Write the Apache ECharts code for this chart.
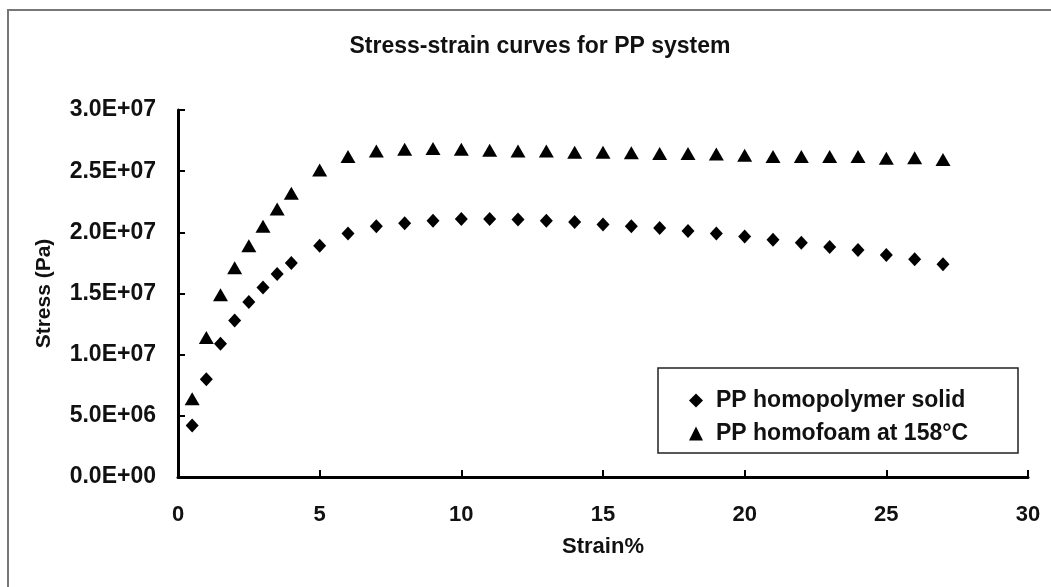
<!DOCTYPE html>
<html>
<head>
<meta charset="utf-8">
<script src="https://cdn.jsdelivr.net/npm/echarts@6/dist/echarts.min.js"></script>
<style>
html,body{margin:0;padding:0;background:#fff;}
#chart{width:1051px;height:587px;}
</style>
</head>
<body>
<div id="chart"></div>
<script>
const strain = [0.5, 1, 1.5, 2, 2.5, 3, 3.5, 4, 5, 6, 7, 8, 9, 10, 11, 12, 13, 14, 15, 16, 17, 18, 19, 20, 21, 22, 23, 24, 25, 26, 27];
const solidStress = [4.2e6, 8.0e6, 10.9e6, 12.8e6, 14.3e6, 15.5e6, 16.6e6, 17.5e6, 18.9e6, 19.9e6, 20.5e6, 20.75e6, 20.95e6, 21.1e6, 21.1e6, 21.05e6, 20.95e6, 20.85e6, 20.65e6, 20.5e6, 20.35e6, 20.1e6, 19.9e6, 19.65e6, 19.4e6, 19.15e6, 18.8e6, 18.55e6, 18.15e6, 17.8e6, 17.4e6];
const foamStress = [6.4e6, 11.4e6, 14.9e6, 17.1e6, 18.9e6, 20.5e6, 21.9e6, 23.2e6, 25.1e6, 26.2e6, 26.65e6, 26.8e6, 26.85e6, 26.8e6, 26.7e6, 26.65e6, 26.65e6, 26.55e6, 26.55e6, 26.5e6, 26.45e6, 26.45e6, 26.4e6, 26.3e6, 26.2e6, 26.2e6, 26.2e6, 26.2e6, 26.05e6, 26.1e6, 25.95e6];
const yTickLabels = ['0.0E+00', '5.0E+06', '1.0E+07', '1.5E+07', '2.0E+07', '2.5E+07', '3.0E+07'];
const seriesNames = ['PP homopolymer solid', 'PP homofoam at 158°C'];
const titleText = 'Stress-strain curves for PP system';

const FONT = '"Liberation Sans", Arial, sans-serif';
const chart = echarts.init(document.getElementById('chart'));
chart.setOption({
  backgroundColor: '#fff',
  animation: false,
  title: {
    text: titleText,
    left: 535, top: 30, textAlign: 'center',
    textStyle: { fontFamily: FONT, fontSize: 23, fontWeight: 'bold', color: '#111' }
  },
  graphic: [
    { type: 'rect', shape: { x: 8, y: 10, width: 1100, height: 620 }, style: { fill: 'none', stroke: '#777', lineWidth: 2 }, z: -10 },
    { type: 'rect', shape: { x: 658, y: 368, width: 360, height: 85 }, style: { fill: '#fff', stroke: '#222', lineWidth: 1.5 }, z: 5 }
  ],
  legend: {
    orient: 'vertical', left: 684, top: 384, itemGap: 10,
    itemWidth: 14, itemHeight: 14, z: 10,
    textStyle: { fontFamily: FONT, fontSize: 23, fontWeight: 'bold', color: '#111', padding: [0, 0, 0, 8] },
    data: seriesNames
  },
  grid: { left: 178, right: 23, top: 110, bottom: 110 },
  xAxis: {
    type: 'value', min: 0, max: 30, interval: 5,
    name: 'Strain%', nameLocation: 'middle', nameGap: 59,
    nameTextStyle: { fontFamily: FONT, fontSize: 22, fontWeight: 'bold', color: '#111' },
    axisLine: { show: true, onZero: false, lineStyle: { color: '#000', width: 3 } },
    axisTick: { show: true, inside: true, length: 7, lineStyle: { color: '#000', width: 2 } },
    axisLabel: { margin: 27, fontFamily: FONT, fontSize: 22, fontWeight: 'bold', color: '#111' },
    splitLine: { show: false }
  },
  yAxis: {
    type: 'value', min: 0, max: 3e7, interval: 5e6,
    name: 'Stress (Pa)', nameLocation: 'middle', nameGap: 123, nameRotate: 90,
    nameTextStyle: { fontFamily: FONT, fontSize: 21, fontWeight: 'bold', color: '#111' },
    axisLine: { show: true, lineStyle: { color: '#000', width: 3 } },
    axisTick: { show: true, inside: true, length: 7, lineStyle: { color: '#000', width: 2 } },
    axisLabel: {
      margin: 22, fontFamily: FONT, fontSize: 23, fontWeight: 'bold', color: '#111',
      formatter: function (v) { return yTickLabels[Math.round(v / 5e6)]; }
    },
    splitLine: { show: false }
  },
  series: [
    {
      name: seriesNames[0], type: 'scatter', symbol: 'diamond', symbolSize: [13, 14],
      itemStyle: { color: '#000', opacity: 1 },
      data: strain.map((x, i) => [x, solidStress[i]])
    },
    {
      name: seriesNames[1], type: 'scatter', symbol: 'triangle', symbolSize: [15, 13],
      itemStyle: { color: '#000', opacity: 1 },
      data: strain.map((x, i) => [x, foamStress[i]])
    }
  ]
});
</script>
</body>
</html>
